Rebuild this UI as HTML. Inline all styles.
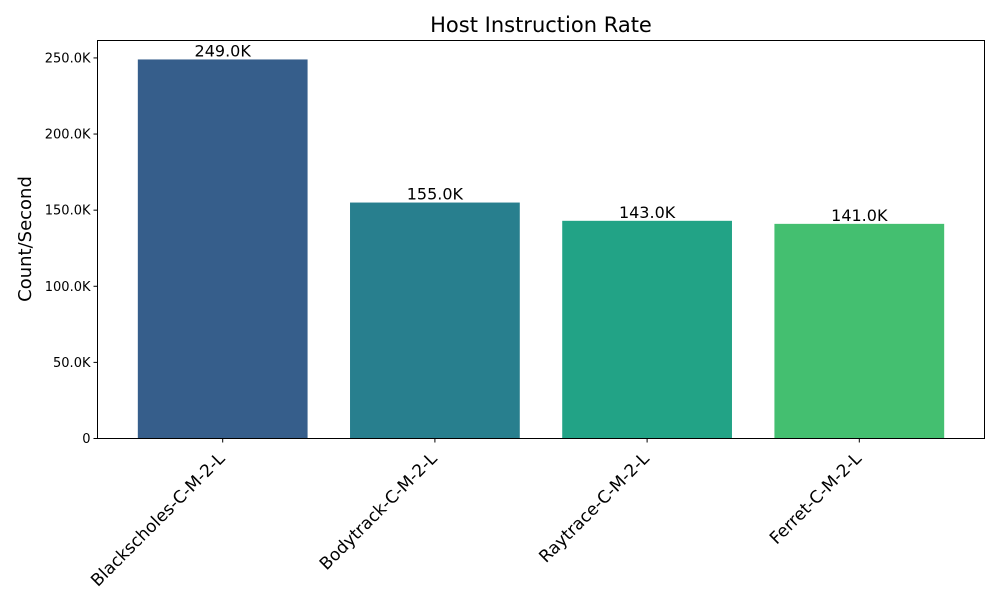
<!DOCTYPE html>
<html><head><meta charset="utf-8"><style>body{margin:0;background:#fff}svg text{font-family:"DejaVu Sans","Liberation Sans",sans-serif}</style></head>
<body>
<svg width="1000" height="600">
<rect width="1000" height="600" fill="#fff"/>
<text x="541" y="32" font-size="21" text-anchor="middle">Host Instruction Rate</text>
<text transform="translate(31,239) rotate(-90)" font-size="18" text-anchor="middle">Count/Second</text>
<g id="plot"></g>
<rect x="97.5" y="40.5" width="887" height="398" fill="none" stroke="#000" stroke-width="1"/>
</svg>
<script>
const categories=["Blackscholes-C-M-2-L","Bodytrack-C-M-2-L","Raytrace-C-M-2-L","Ferret-C-M-2-L"];
const values=[249000,155000,143000,141000];
const valueLabels=["249.0K","155.0K","143.0K","141.0K"];
const yTicks=[0,50000,100000,150000,200000,250000];
const yTickLabels=["0","50.0K","100.0K","150.0K","200.0K","250.0K"];
const colors=["#365e8b","#287f8e","#22a386","#44bf70"];
const L=97.5,R=984.5,T=40.5,B=438.5;
const ymax=Math.max(...values)*1.05;
const y=v=>B-(v/ymax)*(B-T);
const xmin=-0.59,xmax=categories.length-1+0.59;
const x=i=>L+(i-xmin)/(xmax-xmin)*(R-L);
const bw=0.8*(R-L)/(xmax-xmin);
const g=document.getElementById('plot');
const NS="http://www.w3.org/2000/svg";
function mk(t,a){const e=document.createElementNS(NS,t);for(const k in a)e.setAttribute(k,a[k]);return e;}
yTicks.forEach((v,i)=>{
 const tk=mk('line',{x1:L-4,x2:L,y1:y(v),y2:y(v),stroke:'#000'});
 
 
 g.appendChild(tk);
 const t=mk('text',{x:L-7,y:y(v)+4.5,'font-size':13,'text-anchor':'end'});
 t.textContent=yTickLabels[i];
 
 
 g.appendChild(t);
});
categories.forEach((c,i)=>{
 const r=mk('rect',{x:x(i)-bw/2,y:y(values[i]),width:bw,height:B-y(values[i]),fill:colors[i]});
 
 
 g.appendChild(r);
 const vl=mk('text',{x:x(i),y:y(values[i])-3,'font-size':16,'text-anchor':'middle'});
 vl.textContent=valueLabels[i];
 
 
 g.appendChild(vl);
 const tk=mk('line',{x1:x(i),x2:x(i),y1:B,y2:B+4,stroke:'#000'});
 
 
 g.appendChild(tk);
 const t=mk('text',{transform:`translate(${x(i)+3},${B+21}) rotate(-45)`,'font-size':17,'text-anchor':'end'});
 t.textContent=c;
 
 
 g.appendChild(t);
});
</script>
</body></html>
